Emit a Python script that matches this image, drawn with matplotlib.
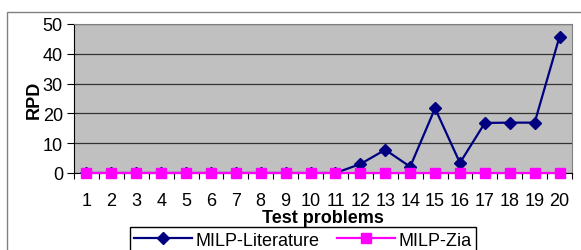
import numpy as np
import matplotlib
matplotlib.use("Agg")
from matplotlib import pyplot as plt
from matplotlib.patches import Rectangle

problems = list(range(1, 21))
milp_literature = [0, 0, 0, 0, 0, 0, 0, 0, 0, 0, 0, 3.0, 7.8, 2.1, 21.7, 3.4, 16.8, 16.9, 16.9, 45.8]
milp_zia = [0] * 20
y_ticks = [0, 10, 20, 30, 40, 50]

plt.rcParams["font.family"] = ["Liberation Sans", "DejaVu Sans"]

W, H = 581, 251
fig = plt.figure(figsize=(W / 100, H / 100), dpi=100)

# outer chart frame
fig.patches.append(Rectangle((7 / W, -0.1), 1.0, (H - 13) / H + 0.1, transform=fig.transFigure,
                             fill=False, edgecolor="#808080", linewidth=1.0))

ax = fig.add_axes([74 / W, (H - 174) / H, (572 - 74) / W, (174 - 25) / H])
ax.set_facecolor("#C0C0C0")

ax.plot(problems, milp_literature, color="#000080", marker="D", markersize=6, linewidth=1.6,
        label="MILP-Literature", zorder=3)
ax.plot(problems, milp_zia, color="#FF00FF", marker="s", markersize=7, linewidth=1.6,
        label="MILP-Zia", zorder=4, clip_on=False)

ax.set_xlim(0.5, 20.5)
ax.set_ylim(0, 50)
ax.set_yticks(y_ticks)
ax.yaxis.grid(True, color="#333333", linewidth=0.9)
ax.set_axisbelow(True)

ax.set_xticks(problems)
ax.set_xticks(np.arange(0.5, 21, 1), minor=True)
ax.tick_params(axis="x", which="major", length=0, labelsize=13, pad=14)
ax.tick_params(axis="x", which="minor", length=4, direction="out", width=0.8)
ax.tick_params(axis="y", length=5, labelsize=13, width=0.8, pad=3)

for s in ("top", "right"):
    ax.spines[s].set_color("#808080")
for s in ("left", "bottom"):
    ax.spines[s].set_color("black")

ax.set_ylabel("RPD", fontsize=13, fontweight="bold", labelpad=0)
ax.set_xlabel("Test problems", fontsize=13, fontweight="bold", labelpad=0)

fig.legend(loc="upper center", bbox_to_anchor=(303 / W, (H - 228) / H), ncol=2,
           fancybox=False, edgecolor="black", framealpha=1, fontsize=13,
           borderaxespad=0, handlelength=3.2, columnspacing=1.0, borderpad=0.25,
           handletextpad=0.2)

fig.savefig("out.png", dpi=100)
